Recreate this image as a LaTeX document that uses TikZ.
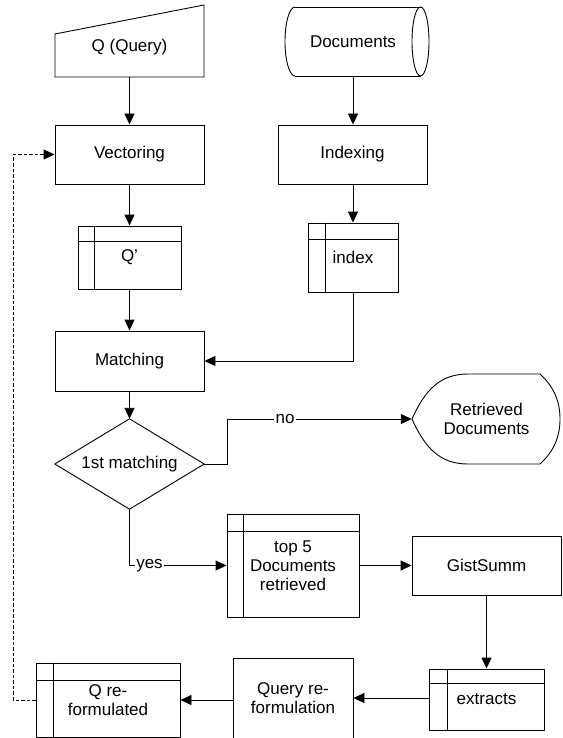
\documentclass[tikz,border=0pt]{standalone}
\usepackage{fontspec}
\setmainfont{Liberation Sans}
\usetikzlibrary{arrows.meta}
\newcommand\storelines[3]{%
  \draw[ln] ([xshift=#2]#1.north west) -- ([xshift=#2]#1.south west);
  \draw[ln] ([yshift=-#3]#1.north west) -- ([yshift=-#3]#1.north east);}
\begin{document}
\begin{tikzpicture}[x=1pt,y=-1pt,
  every node/.style={font=\fontsize{17}{19}\selectfont, inner sep=0pt, align=center},
  ln/.style={line width=0.9pt},
  arr/.style={ln, -{Triangle[length=11pt,width=10pt]}},
  dsh/.style={dash pattern=on 3.5pt off 2pt},
  box/.style={draw, ln, rectangle},
  ghost/.style={rectangle},
  lbl/.style={fill=white, inner xsep=1.5pt, inner ysep=1pt}
]
\useasboundingbox (0,0) rectangle (562,738);

% Q (Query) - manual input
\node[ghost, minimum width=149pt, minimum height=72pt] (q) at (129.5,41) {};
\draw[ln] (55,34) -- (204,5) -- (204,77) -- (55,77) -- cycle;
\node (qtext) at (129.5,47) {Q (Query)};

% Documents - cylinder
\node[ghost, minimum width=136pt, minimum height=69pt] (docs) at (353,41.5) {Documents};
\draw[ln] (295,7) -- (420.5,7);
\draw[ln] (295,76) -- (420.5,76);
\draw[ln] (420.5,41.5) ellipse [x radius=8.5, y radius=34.5];
\draw[ln] (295,7) .. controls (289.5,7) and (285,22.4) .. (285,41.5)
          .. controls (285,60.6) and (289.5,76) .. (295,76);

% process boxes
\node[box, minimum width=149pt, minimum height=59pt] (vec) at (129.5,154.5) {Vectoring};
\node[box, minimum width=149pt, minimum height=59pt] (idx) at (352.5,154.5) {Indexing};
\node[box, minimum width=149pt, minimum height=60pt] (match) at (129.5,361) {Matching};
\node[box, minimum width=149pt, minimum height=59pt] (gist) at (486.5,565.5) {GistSumm};
\node[box, minimum width=120pt, minimum height=80pt] (qref) at (293,698) {Query re-\\formulation};

% internal storage boxes
\node[box, minimum width=103pt, minimum height=63pt] (qp) at (129.5,257.5) {Q’};
\storelines{qp}{17pt}{16pt}
\node[box, minimum width=90pt, minimum height=69pt] (index) at (353,257.5) {index};
\storelines{index}{18pt}{17pt}
\node[box, minimum width=132pt, minimum height=103pt] (top5) at (293,565.5) {top 5\\Documents\\retrieved};
\storelines{top5}{17pt}{18pt}
\node[box, minimum width=115pt, minimum height=61pt] (ext) at (486.5,699.5) {extracts};
\storelines{ext}{19pt}{15pt}
\node[box, minimum width=144pt, minimum height=74pt] (qre) at (108,700) {Q re-\\formulated};
\storelines{qre}{18pt}{18pt}

% decision
\node[ghost, minimum width=149pt, minimum height=90pt] (dia) at (129.5,464) {1st matching};
\draw[ln] (dia.north) -- (dia.east) -- (dia.south) -- (dia.west) -- cycle;

% Retrieved Documents - display
\node[ghost, minimum width=149pt, minimum height=90pt] (ret) at (486.5,419) {Retrieved\\Documents};
\draw[ln] (412,419) .. controls (425,390) and (440,374) .. (468,374) -- (540,374)
  .. controls (553,386) and (560,400) .. (560,419)
  .. controls (560,438) and (553,452) .. (540,464) -- (468,464)
  .. controls (440,464) and (425,448) .. (412,419) -- cycle;

% connectors
\draw[arr] (q.south) -- (vec.north);
\draw[arr] (docs.south) -- (docs.south |- idx.north);
\draw[arr] (vec.south) -- (qp.north);
\draw[arr] (idx.south -| index.north) -- (index.north);
\draw[arr] (qp.south) -- (match.north);
\draw[arr] (index.south) |- (match.east);
\draw[arr] (match.south) -- (dia.north);
\draw[arr] (dia.east) -- ++(23,0) |- (ret.west);
\node[lbl] (nolbl) at (285,419) {no};
\draw[arr] (dia.south) |- (top5.west);
\node[lbl] (yeslbl) at (149.5,565.5) {yes};
\draw[arr] (top5.east) -- (gist.west);
\draw[arr] (gist.south) -- (ext.north);
\draw[arr] (ext.west |- qref.east) -- (qref.east);
\draw[arr] (qref.west |- qre.east) -- (qre.east);
\draw[arr, dsh] (qre.west) -- ++(-22,0) |- (vec.west);
\end{tikzpicture}
\end{document}
